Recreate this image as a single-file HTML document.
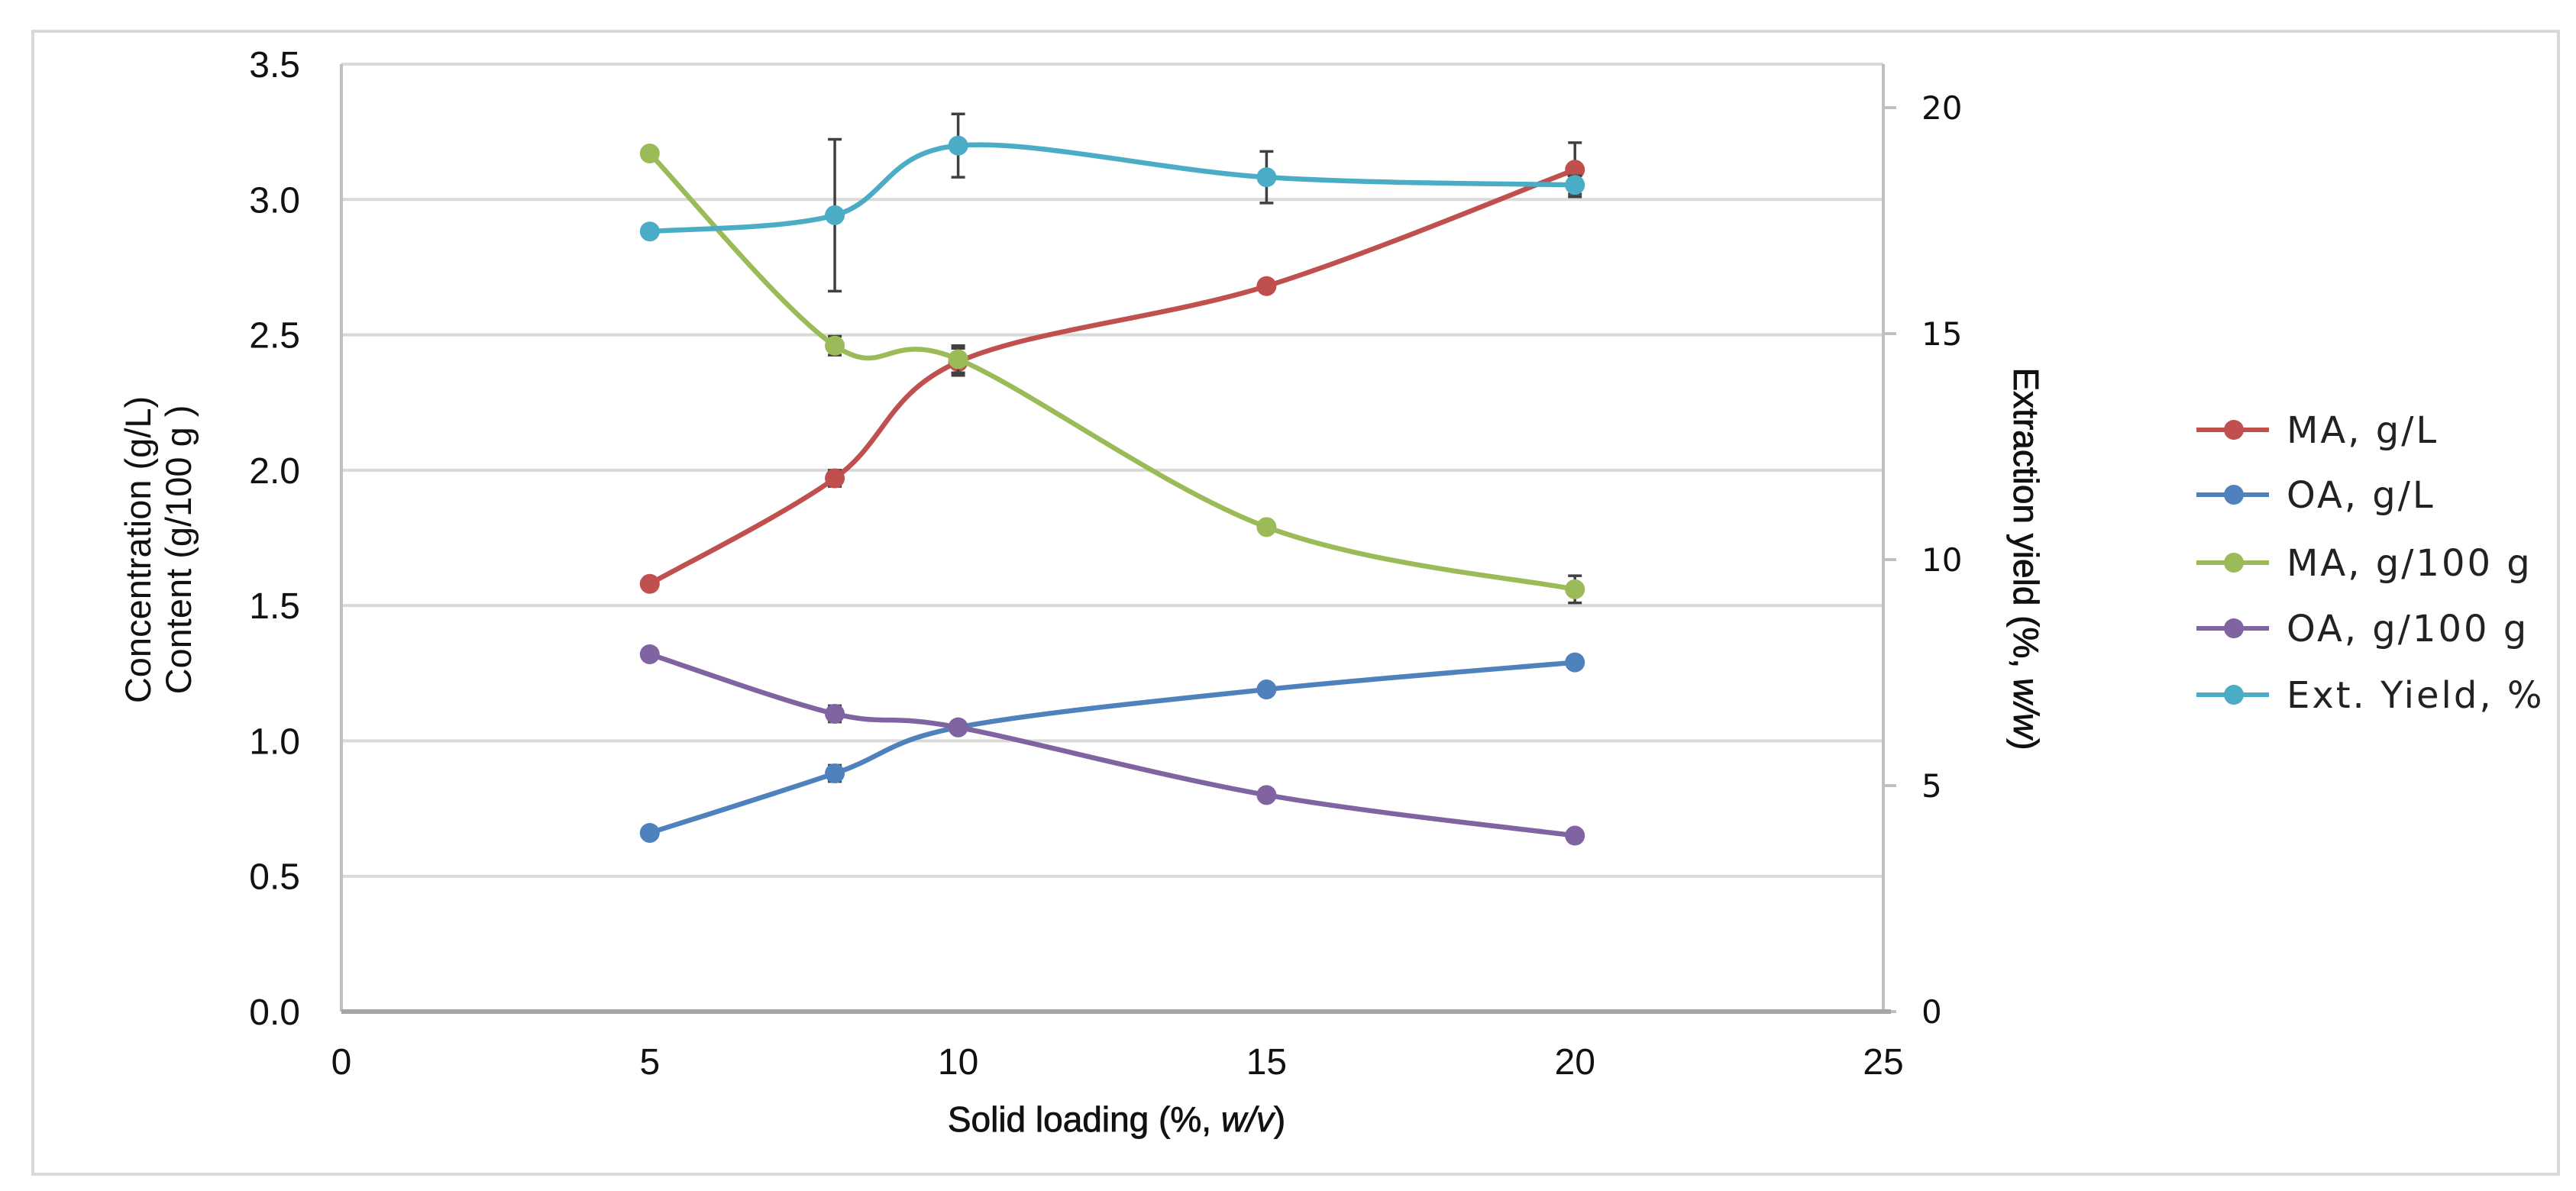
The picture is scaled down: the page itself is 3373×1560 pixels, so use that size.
<!DOCTYPE html>
<html><head><meta charset="utf-8"><style>
html,body{margin:0;padding:0;background:#fff;}
svg{display:block;}
</style></head><body>
<svg id="chart" width="3373" height="1560" viewBox="0 0 3373 1560" xmlns="http://www.w3.org/2000/svg">
<rect x="43" y="41" width="3307" height="1497" fill="#fff" stroke="#d9d9d9" stroke-width="4"/>
<g id="grid"></g>
<g id="axes"></g>
<g id="series"></g>
<text x="1462" y="1482" text-anchor="middle" font-family="Liberation Sans, sans-serif" font-size="46" fill="#111" stroke="#111" stroke-width="0.8">Solid loading (%, <tspan font-style="italic">w/v</tspan>)</text>
<text transform="translate(197,720) rotate(-90)" text-anchor="middle" font-family="Liberation Sans, sans-serif" font-size="47" fill="#111">Concentration (g/L)</text>
<text transform="translate(250,720) rotate(-90)" text-anchor="middle" font-family="Liberation Sans, sans-serif" font-size="47" fill="#111">Content (g/100 g )</text>
<text transform="translate(2637,732) rotate(90)" text-anchor="middle" font-family="Liberation Sans, sans-serif" font-size="46" fill="#111" stroke="#111" stroke-width="0.8">Extraction yield (%, <tspan font-style="italic">w/w</tspan>)</text>
<g id="legend"></g>
</svg>
<script>
const xValues = [5, 8, 10, 15, 20];
const maConc = [1.58, 1.97, 2.40, 2.68, 3.11];
const maConcErr = [0.01, 0.03, 0.05, 0.01, 0.10];
const oaConc = [0.66, 0.88, 1.05, 1.19, 1.29];
const oaConcErr = [0.01, 0.03, 0.01, 0.01, 0.01];
const maContent = [3.17, 2.46, 2.41, 1.79, 1.56];
const maContentErr = [0.01, 0.035, 0.05, 0.01, 0.05];
const oaContent = [1.32, 1.10, 1.05, 0.80, 0.65];
const oaContentErr = [0.02, 0.03, 0.01, 0.01, 0.01];
const extYield = [17.26, 17.62, 19.16, 18.46, 18.29];
const extYieldErr = [0.05, 1.68, 0.70, 0.57, 0.2];
const xTicks = [0, 5, 10, 15, 20, 25];
const yTicks = ["0.0","0.5","1.0","1.5","2.0","2.5","3.0","3.5"];
const y2Ticks = [0, 5, 10, 15, 20];
const seriesNames = ["MA, g/L", "OA, g/L", "MA, g/100 g", "OA, g/100 g", "Ext. Yield, %"];

const NS = "http://www.w3.org/2000/svg";
const L = 447, R = 2466, T = 84, B = 1325;
const xs = v => L + (v - 0) / 25 * (R - L);
const yl = v => B - v / 3.5 * (B - T);
const yr = v => B - v * 59.2;
function mk(tag, attrs, parent) {
  const e = document.createElementNS(NS, tag);
  for (const k in attrs) e.setAttribute(k, attrs[k]);
  parent.appendChild(e);
  return e;
}
const grid = document.getElementById('grid');
const axes = document.getElementById('axes');
const series = document.getElementById('series');
const legend = document.getElementById('legend');

yTicks.forEach(t => {
  const v = parseFloat(t), y = yl(v);
  if (v > 0) {
    const g = mk('line', {x1: L, x2: R, y1: y, y2: y, stroke: '#d9d9d9', 'stroke-width': 4}, grid);
    
    
  }
  const tx = mk('text', {x: 393, y: y + 17, 'text-anchor': 'end', 'font-family': 'Liberation Sans, sans-serif', 'font-size': 48, fill: '#111'}, axes);
  tx.textContent = t;
  
  
});
y2Ticks.forEach(v => {
  const y = yr(v);
  const tk = mk('line', {x1: R, x2: R + 17, y1: y, y2: y, stroke: '#bfbfbf', 'stroke-width': 4}, axes);
  
  
  const tx = mk('text', {x: 2516, y: y + 15, 'font-family': 'DejaVu Sans, sans-serif', 'font-size': 42, fill: '#111'}, axes);
  tx.textContent = v;
  
  
});
xTicks.forEach(v => {
  const tx = mk('text', {x: xs(v), y: 1407, 'text-anchor': 'middle', 'font-family': 'Liberation Sans, sans-serif', 'font-size': 48, fill: '#111'}, axes);
  tx.textContent = v;
  
  
});
let a = mk('line', {x1: L, x2: L, y1: T, y2: B, stroke: '#bfbfbf', 'stroke-width': 4}, axes);


a = mk('line', {x1: R, x2: R, y1: T, y2: B, stroke: '#bfbfbf', 'stroke-width': 4}, axes);


a = mk('line', {x1: L, x2: R + 10, y1: B, y2: B, stroke: '#a6a6a6', 'stroke-width': 6}, axes);



function smoothPath(pts) {
  let d = `M${pts[0][0]},${pts[0][1]}`;
  for (let i = 0; i < pts.length - 1; i++) {
    const p0 = pts[Math.max(i - 1, 0)], p1 = pts[i], p2 = pts[i + 1], p3 = pts[Math.min(i + 2, pts.length - 1)];
    const c1 = [p1[0] + (p2[0] - p0[0]) / 6, p1[1] + (p2[1] - p0[1]) / 6];
    const c2 = [p2[0] - (p3[0] - p1[0]) / 6, p2[1] - (p3[1] - p1[1]) / 6];
    d += ` C${c1[0]},${c1[1]} ${c2[0]},${c2[1]} ${p2[0]},${p2[1]}`;
  }
  return d;
}
const defs = [
  {vals: maConc, err: maConcErr, color: '#C0504D', ys: yl, key: 'ma-conc'},
  {vals: oaConc, err: oaConcErr, color: '#4F81BD', ys: yl, key: 'oa-conc'},
  {vals: maContent, err: maContentErr, color: '#9BBB59', ys: yl, key: 'ma-content'},
  {vals: oaContent, err: oaContentErr, color: '#8064A2', ys: yl, key: 'oa-content'},
  {vals: extYield, err: extYieldErr, color: '#4BACC6', ys: yr, key: 'ext-yield'}
];
defs.forEach((s, si) => {
  const g = mk('g', {}, series);
  
  
  const pts = xValues.map((x, i) => [xs(x), s.ys(s.vals[i])]);
  const p = mk('path', {d: smoothPath(pts), fill: 'none', stroke: s.color, 'stroke-width': 6.5}, g);
  
  
  xValues.forEach((x, i) => {
    const cx = xs(x), y1 = s.ys(s.vals[i] + s.err[i]), y2 = s.ys(s.vals[i] - s.err[i]);
    const eb = mk('path', {d: `M${cx},${y1}V${y2}M${cx-9},${y1}H${cx+9}M${cx-9},${y2}H${cx+9}`, stroke: '#404040', 'stroke-width': 3.5, fill: 'none'}, g);
    
    
  });
  xValues.forEach((x, i) => {
    const c = mk('circle', {cx: xs(x), cy: s.ys(s.vals[i]), r: 13, fill: s.color}, g);
    
    
  });
  const ly = [563, 648, 737, 823, 910][si];
  const lg = mk('g', {}, legend);
  
  
  mk('line', {x1: 2876, x2: 2971, y1: ly, y2: ly, stroke: s.color, 'stroke-width': 6}, lg);
  mk('circle', {cx: 2925, cy: ly, r: 13, fill: s.color}, lg);
  const t = mk('text', {x: 2994, y: ly + 17, 'font-family': 'DejaVu Sans, Verdana, sans-serif', 'font-size': 48, 'letter-spacing': 3, fill: '#222'}, lg);
  t.textContent = seriesNames[si];
});
</script>
</body></html>
